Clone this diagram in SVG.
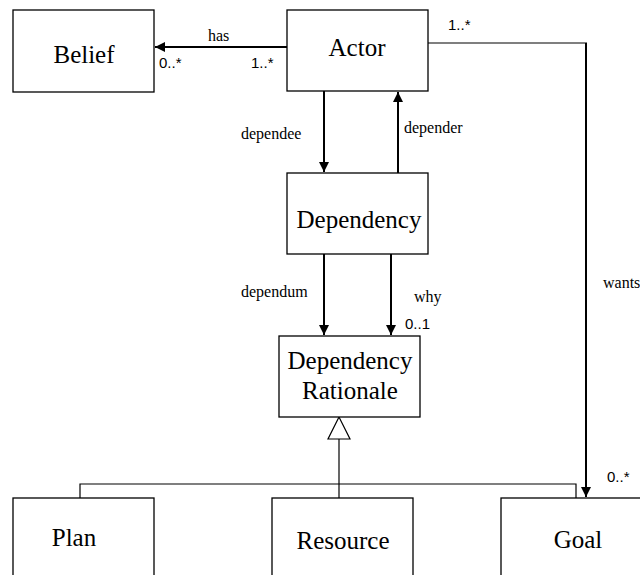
<svg xmlns="http://www.w3.org/2000/svg" width="640" height="575" viewBox="0 0 640 575">
<style>
.box{fill:#fff;stroke:#000;stroke-width:1.3}
.name{font-family:"Liberation Serif",serif;font-size:25px;fill:#000}
.lbl{font-family:"Liberation Serif",serif;font-size:16px;fill:#000}
.mul{font-family:"Liberation Sans",sans-serif;font-size:15px;fill:#000}
.thick{stroke:#000;stroke-width:2;fill:none}
.thin{stroke:#000;stroke-width:1.2;fill:none}
</style>
<defs>
<marker id="arr" viewBox="0 0 10 10" refX="10" refY="5" markerWidth="5" markerHeight="5" orient="auto" markerUnits="strokeWidth">
<path d="M0,0 L10,5 L0,10 z" fill="#000"/>
</marker>
</defs>
<g id="connectors">
<line class="thick" x1="287" y1="47" x2="155" y2="47" marker-end="url(#arr)"/>
<polyline class="thin" points="428,43 587,43"/>
<line class="thick" x1="586" y1="43" x2="586" y2="497" marker-end="url(#arr)"/>
<line class="thick" x1="324" y1="91" x2="324" y2="172" marker-end="url(#arr)"/>
<line class="thick" x1="398" y1="173" x2="398" y2="92" marker-end="url(#arr)"/>
<line class="thick" x1="324" y1="254" x2="324" y2="335" marker-end="url(#arr)"/>
<line class="thick" x1="391" y1="254" x2="391" y2="335" marker-end="url(#arr)"/>
<polygon points="339,417 328,439 350,439" fill="#fff" stroke="#000" stroke-width="1.2"/>
<line class="thin" x1="339" y1="439" x2="339" y2="498"/>
<polyline class="thin" points="80,498 80,484 576,484 576,498"/>
<text class="lbl" x="208" y="41">has</text>
<text class="mul" x="159" y="68">0..*</text>
<text class="mul" x="251" y="68">1..*</text>
<text class="mul" x="448" y="30">1..*</text>
<text class="lbl" x="241" y="139">dependee</text>
<text class="lbl" x="404" y="133">depender</text>
<text class="lbl" x="241" y="297">dependum</text>
<text class="lbl" x="414" y="302">why</text>
<text class="mul" x="405" y="329">0..1</text>
<text class="lbl" x="603" y="288">wants</text>
<text class="mul" x="607" y="482">0..*</text>
</g>
<g id="belief">
<rect class="box" x="13" y="10" width="141" height="82"/>
<text class="name" x="84" y="63" text-anchor="middle">Belief</text>
</g>
<g id="actor">
<rect class="box" x="287" y="10" width="141" height="81"/>
<text class="name" x="357" y="56" text-anchor="middle">Actor</text>
</g>
<g id="dependency">
<rect class="box" x="287" y="173" width="141" height="81"/>
<text class="name" x="359" y="228" text-anchor="middle">Dependency</text>
</g>
<g id="dependency-rationale">
<rect class="box" x="279" y="336" width="141" height="81"/>
<text class="name" x="350" y="369" text-anchor="middle">Dependency</text>
<text class="name" x="350" y="399" text-anchor="middle">Rationale</text>
</g>
<g id="plan">
<rect class="box" x="13" y="498" width="141" height="90"/>
<text class="name" x="74" y="546" text-anchor="middle">Plan</text>
</g>
<g id="resource">
<rect class="box" x="272" y="498" width="141" height="90"/>
<text class="name" x="343" y="549" text-anchor="middle">Resource</text>
</g>
<g id="goal">
<rect class="box" x="501" y="498" width="160" height="90"/>
<text class="name" x="578" y="548" text-anchor="middle">Goal</text>
</g>
</svg>
